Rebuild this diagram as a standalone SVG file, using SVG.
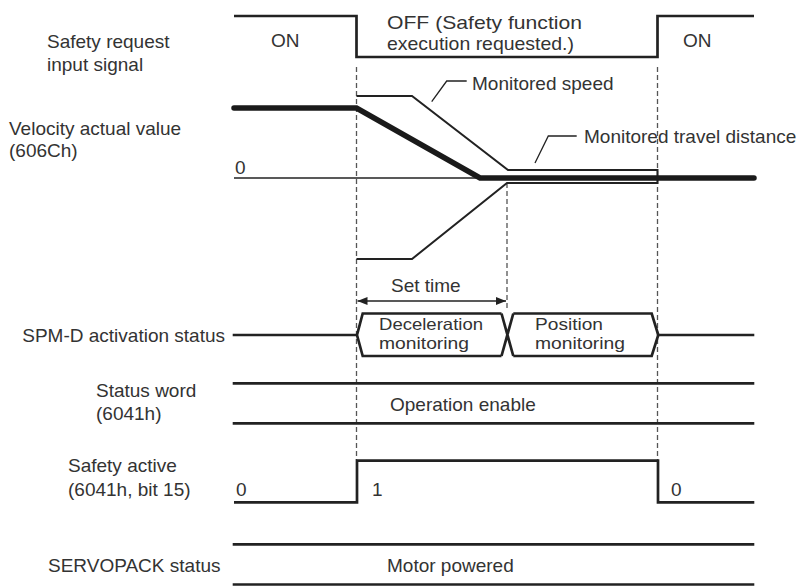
<svg xmlns="http://www.w3.org/2000/svg" width="803" height="586" viewBox="0 0 803 586">
  <defs>
    <style>
      .t { font-family: "Liberation Sans", Arial, sans-serif; font-size: 19px; fill: #333; }
      .ts { font-family: "Liberation Sans", Arial, sans-serif; font-size: 16.5px; fill: #333; }
      .sig { fill: none; stroke: #222; stroke-width: 2.7; stroke-linejoin: miter; }
      .thick { fill: none; stroke: #1a1a1a; stroke-width: 5.5; stroke-linecap: round; stroke-linejoin: miter; }
      .mon { fill: none; stroke: #222; stroke-width: 2; }
      .thin { fill: none; stroke: #222; stroke-width: 1.3; }
      .dash { fill: none; stroke: #555; stroke-width: 1.3; stroke-dasharray: 5 3; }
    </style>
    <marker id="arr" viewBox="0 0 10 8" refX="10" refY="4" markerWidth="10" markerHeight="8" markerUnits="userSpaceOnUse" orient="auto-start-reverse">
      <path d="M0,0 L10,4 L0,8 Z" fill="#222"/>
    </marker>
  </defs>
  <rect width="803" height="586" fill="#fff"/>

  <g id="connectors">
    <line class="dash" x1="356.5" y1="67" x2="356.5" y2="460"/>
    <line class="dash" x1="657.5" y1="67" x2="657.5" y2="460"/>
    <line class="dash" x1="507" y1="183" x2="507" y2="310"/>
    <polyline class="thin" points="431.7,101.7 446.7,81 466.7,81"/>
    <polyline class="thin" points="535,163 548.3,136 576.7,136"/>
    <line class="thin" x1="357.5" y1="301" x2="506" y2="301" marker-start="url(#arr)" marker-end="url(#arr)"/>
  </g>

  <g id="safety-request">
    <text class="t" x="47" y="47.5">Safety request</text>
    <text class="t" x="47" y="71">input signal</text>
    <polyline class="sig" points="234,16 356.5,16 356.5,57 657.5,57 657.5,16 754,16"/>
    <text class="t" x="271" y="46.7">ON</text>
    <text class="t" x="387" y="29" textLength="195" lengthAdjust="spacingAndGlyphs">OFF (Safety function</text>
    <text class="t" x="387" y="50" textLength="187" lengthAdjust="spacingAndGlyphs">execution requested.)</text>
    <text class="t" x="683" y="46.7">ON</text>
  </g>

  <g id="velocity">
    <text class="t" x="9" y="135">Velocity actual value</text>
    <text class="t" x="9" y="157">(606Ch)</text>
    <text class="t" x="235" y="173.5">0</text>
    <line class="thin" x1="234" y1="178" x2="754" y2="178"/>
    <polyline class="mon" points="356.5,96 412,96 508,170 657.5,170 657.5,183 507,183 412,259 356.5,259"/>
    <polyline class="thick" points="234,108 356.5,108 480,178 754,178"/>
    <text class="t" x="472" y="90">Monitored speed</text>
    <text class="t" x="584" y="143">Monitored travel distance</text>
  </g>

  <g id="set-time">
    <text class="t" x="391" y="292">Set time</text>
  </g>

  <g id="spm-d">
    <text class="t" x="225" y="341.5" text-anchor="end">SPM-D activation status</text>
    <line class="sig" x1="232.7" y1="335" x2="357" y2="335"/>
    <path class="sig" d="M501.5,313.5 L362.7,313.5 L357,335 L362.7,356 L501.5,356"/>
    <path class="sig" d="M501.5,313.5 L513.3,356 M501.5,356 L513.3,313.5"/>
    <path class="sig" d="M513.3,313.5 L651.7,313.5 L658.3,335 L651.7,356 L513.3,356"/>
    <line class="sig" x1="658.3" y1="335" x2="754.3" y2="335"/>
    <text class="ts" x="379" y="330" textLength="104" lengthAdjust="spacingAndGlyphs">Deceleration</text>
    <text class="ts" x="379" y="348.5" textLength="90" lengthAdjust="spacingAndGlyphs">monitoring</text>
    <text class="ts" x="535" y="330" textLength="68" lengthAdjust="spacingAndGlyphs">Position</text>
    <text class="ts" x="535" y="348.5" textLength="90" lengthAdjust="spacingAndGlyphs">monitoring</text>
  </g>

  <g id="status-word">
    <text class="t" x="96" y="397">Status word</text>
    <text class="t" x="96" y="420">(6041h)</text>
    <line class="sig" x1="232.7" y1="383.3" x2="754.3" y2="383.3"/>
    <line class="sig" x1="232.7" y1="423.3" x2="754.3" y2="423.3"/>
    <text class="t" x="390" y="411">Operation enable</text>
  </g>

  <g id="safety-active">
    <text class="t" x="68" y="472">Safety active</text>
    <text class="t" x="68" y="496">(6041h, bit 15)</text>
    <polyline class="sig" points="234,502.3 357,502.3 357,460.7 658,460.7 658,502.3 754.3,502.3"/>
    <text class="t" x="236" y="496">0</text>
    <text class="t" x="372" y="496">1</text>
    <text class="t" x="671" y="496">0</text>
  </g>

  <g id="servopack">
    <text class="t" x="48" y="572">SERVOPACK status</text>
    <line class="sig" x1="232.7" y1="544.3" x2="754.3" y2="544.3"/>
    <line class="sig" x1="232.7" y1="584.5" x2="754.3" y2="584.5"/>
    <text class="t" x="387" y="572">Motor powered</text>
  </g>
</svg>
